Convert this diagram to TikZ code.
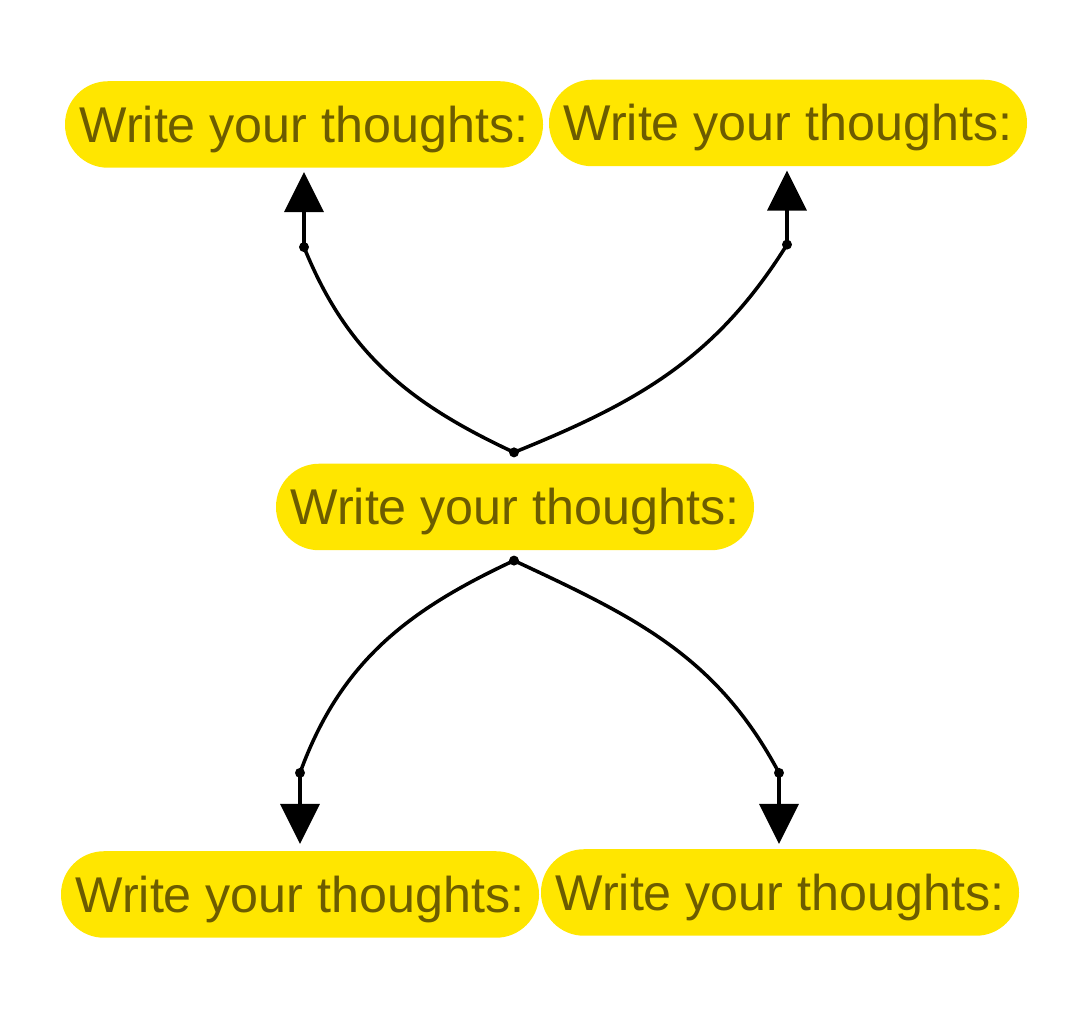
\documentclass[tikz,border=0pt]{standalone}
\usepackage{fontspec}
\setmainfont{Liberation Sans}
\usepackage{xcolor}
\usepackage{tikz}
\usetikzlibrary{calc}
\usetikzlibrary{arrows.meta,positioning}
\definecolor{pillyellow}{RGB}{255,230,0}
\definecolor{pilltext}{RGB}{108,92,0}

\begin{document}
\begin{tikzpicture}[transform shape,scale=1,
	thought/.style={fill=pillyellow,text=pilltext,rounded corners=0.86cm,minimum width=9.56cm,minimum height=1.73cm,inner sep=0pt,text height=0.72cm,text depth=0pt,font=\fontsize{28.6pt}{34pt}\selectfont},
	link/.style={line width=2pt,black},
	bigtip/.style={line width=2pt,-{Triangle[length=0.8cm,width=0.78cm]}}]
	\useasboundingbox (0,0) rectangle (21.58,20.42);
	\node[thought] (tl) at (6.08,17.93) {Write your thoughts:};
	\node[thought] (tr) at (15.76,17.96) {Write your thoughts:};
	\node[thought] (c) at (10.30,10.28) {Write your thoughts:};
	\node[thought] (bl) at (6.00,2.53) {Write your thoughts:};
	\node[thought] (br) at (15.60,2.57) {Write your thoughts:};
	\coordinate (ctop) at ($(c.north)+(-0.02,0.22)$);
	\coordinate (cbot) at ($(c.south)+(-0.02,-0.20)$);
	\coordinate (tlknot) at ($(tl.south)+(0,-1.58)$);
	\coordinate (trknot) at ($(tr.south)+(-0.02,-1.56)$);
	\coordinate (blknot) at ($(bl.north)+(0,1.56)$);
	\coordinate (brknot) at ($(br.north)+(-0.02,1.52)$);
	\draw[link] (ctop) to[out=155,in=-68] (tlknot);
	\draw[link] (ctop) to[out=22,in=-122] (trknot);
	\draw[link] (cbot) to[out=-155,in=70] (blknot);
	\draw[link] (cbot) to[out=-25,in=118] (brknot);
	\draw[bigtip] (tlknot) -- ($(tl.south)+(0,-0.08)$);
	\draw[bigtip] (trknot) -- ($(tr.south)+(-0.02,-0.08)$);
	\draw[bigtip] (blknot) -- ($(bl.north)+(0,0.14)$);
	\draw[bigtip] (brknot) -- ($(br.north)+(-0.02,0.10)$);
	\foreach \p in {ctop,cbot,tlknot,trknot,blknot,brknot}
		\fill[black] (\p) circle (0.1cm);
\end{tikzpicture}
\end{document}
